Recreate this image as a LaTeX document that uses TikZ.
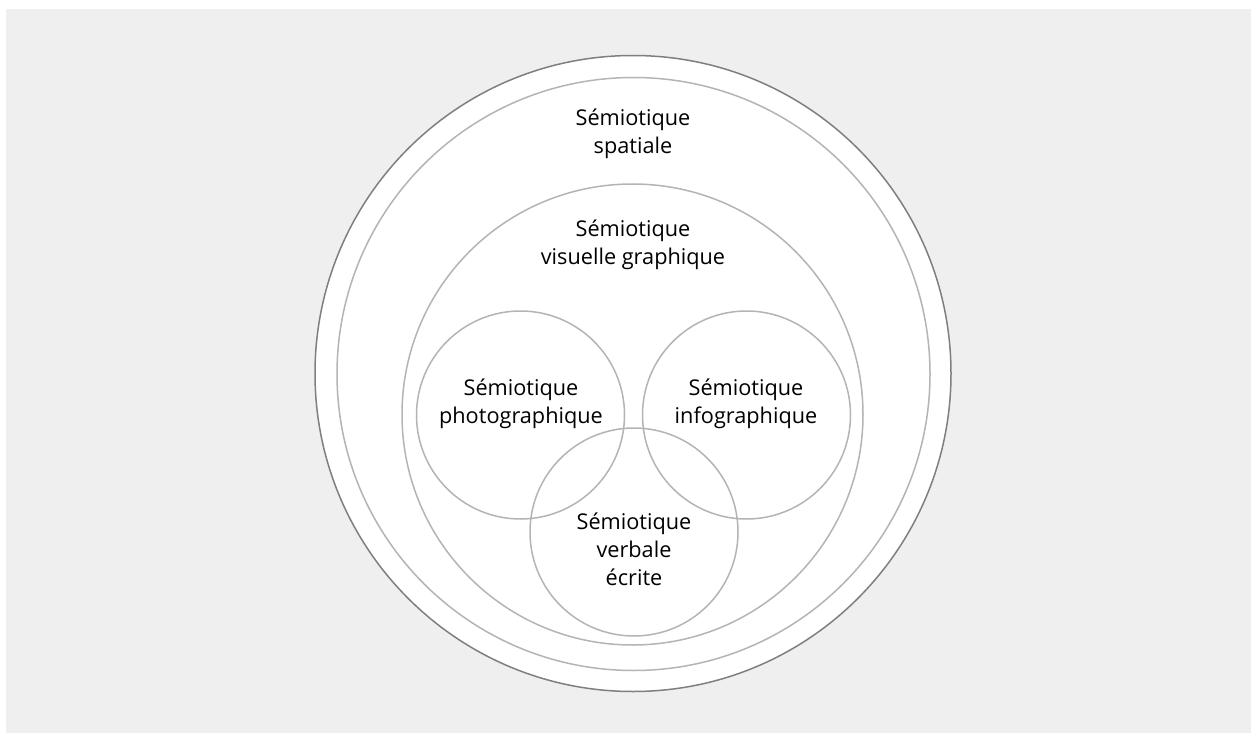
\documentclass[tikz,border=0pt]{standalone}
\usepackage{fontspec}
\setmainfont{Open Sans}
\definecolor{paper}{HTML}{EFEFEF}
\definecolor{ringdark}{HTML}{7F7F7F}
\definecolor{ringlight}{HTML}{B4B4B4}
\begin{document}
\begin{tikzpicture}[x=1pt,y=-1pt,
  label/.style={align=center,font=\fontsize{21.7}{28}\selectfont,inner sep=0pt}]
\path (0,0) rectangle (1251,733);
\fill[paper] (6,9) rectangle (1251,733);
\filldraw[fill=white,draw=ringdark,line width=1.5pt] (633,373.5) circle (318);
\draw[ringlight,line width=1.5pt] (633.5,374) circle (296.5);
\draw[ringlight,line width=1.5pt] (632.5,414.5) circle (230.5);
\draw[ringlight,line width=1.5pt] (520.5,415) circle (104);
\draw[ringlight,line width=1.5pt] (746.5,415) circle (104);
\draw[ringlight,line width=1.5pt] (634,532) circle (104);
\node[label] (spatiale) at (633,134) {Sémiotique\\spatiale};
\node[label] (visuelle) at (633,245) {Sémiotique\\visuelle graphique};
\node[label] (photo) at (521,404) {Sémiotique\\photographique};
\node[label] (info) at (746,404) {Sémiotique\\infographique};
\node[label] (verbale) at (634,549) {Sémiotique\\verbale\\écrite};
\end{tikzpicture}
\end{document}
